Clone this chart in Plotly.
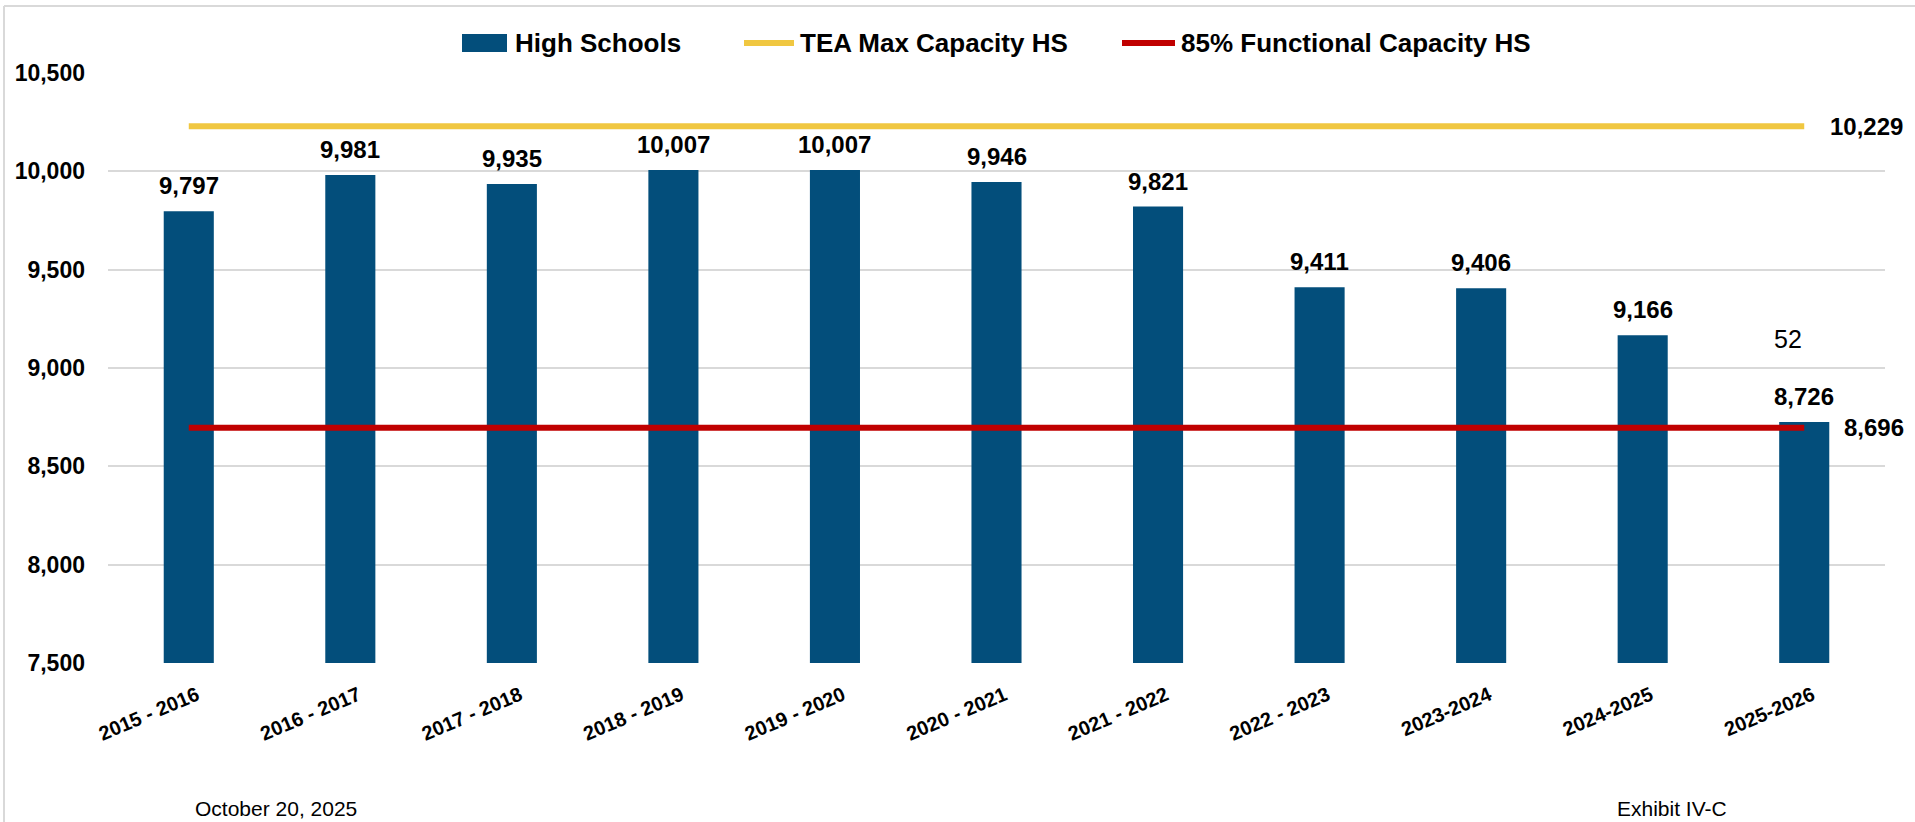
import plotly.graph_objects as go

categories = ["2015 - 2016", "2016 - 2017", "2017 - 2018", "2018 - 2019", "2019 - 2020",
              "2020 - 2021", "2021 - 2022", "2022 - 2023", "2023-2024", "2024-2025", "2025-2026"]
high_schools = [9797, 9981, 9935, 10007, 10007, 9946, 9821, 9411, 9406, 9166, 8726]
tea_max_capacity = 10229
functional_capacity_85 = 8696
stray_label_text = "52"
stray_label_value = 9150
y_ticks = [7500, 8000, 8500, 9000, 9500, 10000, 10500]
series_names = ["High Schools", "TEA Max Capacity HS", "85% Functional Capacity HS"]

BAR = "#034E7B"
GOLD = "#F0C741"
RED = "#C00000"
FONT = "Liberation Sans, Arial, sans-serif"

W, H = 1915, 822
L, R, T, B = 108, 30, 73, 159
pw, ph = W - L - R, H - T - B


def px_x(p):
    return (p - L) / pw


def px_y(p):
    return 1 - (p - T) / ph


fig = go.Figure()
fig.add_trace(go.Bar(x=categories, y=high_schools, name=series_names[0],
                     marker=dict(color=BAR, line=dict(width=0))))
fig.add_trace(go.Scatter(x=categories, y=[tea_max_capacity] * len(categories),
                         name=series_names[1], mode="lines",
                         line=dict(color=GOLD, width=6)))
fig.add_trace(go.Scatter(x=categories, y=[functional_capacity_85] * len(categories),
                         name=series_names[2], mode="lines",
                         line=dict(color=RED, width=6)))

annotations = []
for c, v in zip(categories, high_schools):
    annotations.append(dict(x=c, y=v, text=f"<b>{v:,}</b>", showarrow=False,
                            yanchor="bottom", yshift=10,
                            font=dict(family=FONT, size=24, color="#000000")))
annotations.append(dict(x=categories[-1], y=tea_max_capacity, text=f"<b>{tea_max_capacity:,}</b>",
                        showarrow=False, xanchor="left", xshift=24,
                        font=dict(family=FONT, size=24, color="#000000")))
annotations.append(dict(x=categories[-1], y=functional_capacity_85, text=f"<b>{functional_capacity_85:,}</b>",
                        showarrow=False, xanchor="left", xshift=38,
                        font=dict(family=FONT, size=24, color="#000000")))
annotations.append(dict(x=categories[-1], y=stray_label_value, text=stray_label_text,
                        showarrow=False, xanchor="center", xshift=-16,
                        font=dict(family=FONT, size=25, color="#000000")))
annotations.append(dict(xref="paper", yref="paper", x=px_x(193), y=px_y(808),
                        text="October 20, 2025", showarrow=False, xanchor="left", yanchor="middle",
                        font=dict(family=FONT, size=21, color="#000000")))
annotations.append(dict(xref="paper", yref="paper", x=px_x(1615), y=px_y(808),
                        text="Exhibit IV-C", showarrow=False, xanchor="left", yanchor="middle",
                        font=dict(family=FONT, size=21, color="#000000")))

# custom legend (wide Excel-style keys)
LEG_Y = 43
legend_text_x = [515, 800, 1181]
for name, tx in zip(series_names, legend_text_x):
    annotations.append(dict(xref="paper", yref="paper", x=px_x(tx - 2), y=px_y(LEG_Y),
                            text=f"<b>{name}</b>", showarrow=False, xanchor="left", yanchor="middle",
                            font=dict(family=FONT, size=26, color="#000000")))

shapes = [
    dict(type="line", xref="paper", yref="paper", x0=px_x(4), x1=px_x(W),
         y0=px_y(6), y1=px_y(6), line=dict(color="#D9D9D9", width=2)),
    dict(type="line", xref="paper", yref="paper", x0=px_x(4), x1=px_x(4),
         y0=px_y(6), y1=px_y(H), line=dict(color="#D9D9D9", width=2)),
    dict(type="rect", xref="paper", yref="paper", x0=px_x(462), x1=px_x(507),
         y0=px_y(LEG_Y + 9), y1=px_y(LEG_Y - 9), fillcolor=BAR, line=dict(width=0)),
    dict(type="line", xref="paper", yref="paper", x0=px_x(744), x1=px_x(794),
         y0=px_y(LEG_Y), y1=px_y(LEG_Y), line=dict(color=GOLD, width=6)),
    dict(type="line", xref="paper", yref="paper", x0=px_x(1122), x1=px_x(1175),
         y0=px_y(LEG_Y), y1=px_y(LEG_Y), line=dict(color=RED, width=6)),
]

fig.update_layout(
    width=W, height=H, autosize=False,
    margin=dict(l=L, r=R, t=T, b=B, pad=0),
    paper_bgcolor="#FFFFFF", plot_bgcolor="#FFFFFF",
    bargap=0.69,
    font=dict(family=FONT, color="#000000"),
    showlegend=False,
    annotations=annotations,
    shapes=shapes,
    xaxis=dict(type="category", categoryorder="array", categoryarray=categories,
               range=[-0.5, len(categories) - 0.5], autorange=False,
               showgrid=False, showline=False, zeroline=False, ticks="",
               tickangle=-23, ticklabelstandoff=16, ticklabelshift=8,
               tickfont=dict(family=FONT, size=20, color="#000000", weight="bold")),
    yaxis=dict(range=[7500, 10500], tickvals=y_ticks, tickformat=",",
               showgrid=True, gridcolor="#D9D9D9", gridwidth=1.5, zeroline=False,
               showline=False, ticks="", ticklabelstandoff=22,
               tickfont=dict(family=FONT, size=23, color="#000000", weight="bold")),
)

fig.write_html("out.html", config={"displayModeBar": False},
               post_script="document.body.style.margin='0';document.body.style.overflow='hidden';")
